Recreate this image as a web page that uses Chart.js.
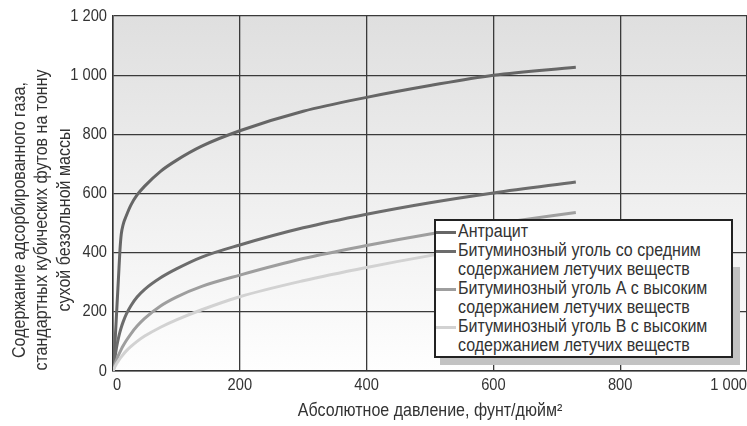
<!DOCTYPE html>
<html>
<head>
<meta charset="utf-8">
<script src="https://cdn.jsdelivr.net/npm/chart.js@4.4.1/dist/chart.umd.min.js"></script>
<style>
  html, body { margin: 0; padding: 0; background: #fff; }
  #wrap { position: relative; width: 747px; height: 426px; overflow: hidden; }
  #shadowR { position: absolute; left: 733px; top: 267px; width: 7px; height: 98px; background: #c2c2c2; }
  #shadowB { position: absolute; left: 440px; top: 358px; width: 300px; height: 7px; background: #c2c2c2; }
  #legend {
    position: absolute; left: 434px; top: 219px; width: 299px; height: 139px;
    box-sizing: border-box; border: 2px solid #222; background: #fff;
    font-family: "Liberation Sans", Arial, sans-serif;
    font-size: 18px; line-height: 19px; color: #333; padding-top: 1px;
  }
  .item { display: flex; align-items: flex-start; }
  .mark { width: 20px; height: 3px; margin-top: 9px; margin-right: 2px; flex: none; }
  .txt { display: inline-block; white-space: nowrap; transform: scaleX(0.89); transform-origin: left top; }
</style>
</head>
<body>
<div id="wrap">
  <canvas id="chart" width="747" height="426"></canvas>
  <div id="shadowR"></div>
  <div id="shadowB"></div>
  <div id="legend"></div>
</div>
<script>
// Absolute pressure, psi
const pressure = [0, 3, 6, 9, 11, 13, 16, 21, 28, 38, 50, 75, 100, 140, 200, 300, 400, 500, 600, 730];

// adsorbed gas, scf per ton (dry ash-free)
const anthracite = [0, 90, 210, 330, 410, 462, 495, 525, 560, 595, 625, 675, 712, 760, 812, 878, 925, 965, 1000, 1027];
const mediumVol  = [0, 45, 85, 115, 132, 147, 166, 192, 220, 250, 276, 315, 345, 385, 426, 484, 530, 569, 602, 639];
const highVolA   = [0, 22, 40, 55, 64, 73, 85, 103, 125, 152, 178, 220, 250, 286, 324, 380, 424, 463, 497, 536];
const highVolB   = [0, 14, 26, 36, 42, 48, 56, 68, 82, 100, 118, 148, 173, 207, 251, 305, 350, 390, 425, 462];

const seriesNames = [
  ['Антрацит'],
  ['Битуминозный уголь со средним', 'содержанием летучих веществ'],
  ['Битуминозный уголь А с высоким', 'содержанием летучих веществ'],
  ['Битуминозный уголь В с высоким', 'содержанием летучих веществ']
];
const seriesColors = ['#666666', '#6c6c6c', '#9e9e9e', '#d2d2d2'];

const xTickValues = [0, 200, 400, 600, 800, 1000];
const xTickLabels = ['0', '200', '400', '600', '800', '1 000'];
const yTickValues = [0, 200, 400, 600, 800, 1000, 1200];
const yTickLabels = ['0', '200', '400', '600', '800', '1 000', '1 200'];

const xTitle = 'Абсолютное давление, фунт/дюйм²';
const yTitle = [
  'Содержание адсорбированного газа,',
  'стандартных кубических футов на тонну',
  'сухой беззольной массы'
];

const fontFamily = '"Liberation Sans", Arial, sans-serif';
const textColor = '#333';

function toPoints(values) {
  return pressure.map((p, i) => ({ x: p, y: values[i] }));
}

const allSeries = [anthracite, mediumVol, highVolA, highVolB];

// the original uses a condensed face; squeeze canvas text horizontally
function narrowText(ctx, k) {
  const fill = ctx.fillText;
  const measure = ctx.measureText;
  ctx.fillText = function (t, x, y) {
    this.save();
    this.translate(x, y);
    this.scale(k, 1);
    fill.call(this, t, 0, 0);
    this.restore();
  };
  ctx.measureText = function (t) {
    const m = measure.call(this, t);
    return {
      width: m.width * k,
      actualBoundingBoxAscent: m.actualBoundingBoxAscent,
      actualBoundingBoxDescent: m.actualBoundingBoxDescent
    };
  };
}

const canvas = document.getElementById('chart');
narrowText(canvas.getContext('2d'), 0.89);

// gray gradient behind the plot
const bgPlugin = {
  id: 'bg',
  beforeDraw(chart) {
    const { ctx, chartArea: a } = chart;
    const g = ctx.createLinearGradient(0, a.top, 0, a.bottom);
    g.addColorStop(0, '#dfdfdf');
    g.addColorStop(1, '#fefefe');
    ctx.save();
    ctx.fillStyle = g;
    ctx.fillRect(a.left, a.top, a.right - a.left, a.bottom - a.top);
    ctx.restore();
  }
};

// y axis title, three rotated lines
const yTitlePlugin = {
  id: 'ytitle',
  afterDraw(chart) {
    const ctx = chart.ctx;
    const xs = [20, 42, 65];
    ctx.save();
    ctx.fillStyle = textColor;
    ctx.font = '18px ' + fontFamily;
    ctx.textAlign = 'center';
    ctx.textBaseline = 'middle';
    yTitle.forEach((line, i) => {
      ctx.save();
      ctx.translate(xs[i], 220);
      ctx.rotate(-Math.PI / 2);
      ctx.fillText(line, 0, 0);
      ctx.restore();
    });
    ctx.restore();
  }
};

new Chart(canvas, {
  type: 'line',
  data: {
    datasets: allSeries.map((vals, i) => ({
      label: seriesNames[i].join(' '),
      data: toPoints(vals),
      borderColor: seriesColors[i],
      borderWidth: 3,
      pointRadius: 0,
      cubicInterpolationMode: 'monotone',
      fill: false
    })).reverse()
  },
  options: {
    responsive: false,
    animation: false,
    layout: { padding: { top: 16, left: 0, right: 0, bottom: 0 }, autoPadding: false },
    plugins: { legend: { display: false }, tooltip: { enabled: false } },
    scales: {
      x: {
        type: 'linear', min: 0, max: 1000,
        afterBuildTicks: s => { s.ticks = xTickValues.map(v => ({ value: v })); },
        afterFit: s => { s.height = 55; s.paddingLeft = 0; s.paddingRight = 0; },
        ticks: {
          align: 'inner', padding: 5, color: textColor,
          font: { family: fontFamily, size: 16.5 },
          callback: v => xTickLabels[xTickValues.indexOf(v)]
        },
        grid: { color: '#3a3a3a', lineWidth: 1.3, drawTicks: false },
        border: { color: '#333', width: 1.5 },
        title: {
          display: true, text: xTitle, color: textColor,
          font: { family: fontFamily, size: 18 }, padding: { top: 0, bottom: 4 }
        }
      },
      y: {
        min: 0, max: 1200,
        afterBuildTicks: s => { s.ticks = yTickValues.map(v => ({ value: v })); },
        afterFit: s => { s.width = 113; },
        ticks: {
          padding: 6, color: textColor,
          font: { family: fontFamily, size: 16.5 },
          callback: v => yTickLabels[yTickValues.indexOf(v)]
        },
        grid: { color: '#3a3a3a', lineWidth: 1.3, drawTicks: false },
        border: { color: '#333', width: 1.5 }
      }
    }
  },
  plugins: [bgPlugin, yTitlePlugin]
});

// legend box
const legend = document.getElementById('legend');
seriesNames.forEach((lines, i) => {
  const item = document.createElement('div');
  item.className = 'item';
  const mark = document.createElement('span');
  mark.className = 'mark';
  mark.style.background = seriesColors[i];
  const txt = document.createElement('span');
  txt.className = 'txt';
  txt.innerHTML = lines.join('<br>');
  item.appendChild(mark);
  item.appendChild(txt);
  legend.appendChild(item);
});
</script>
</body>
</html>
